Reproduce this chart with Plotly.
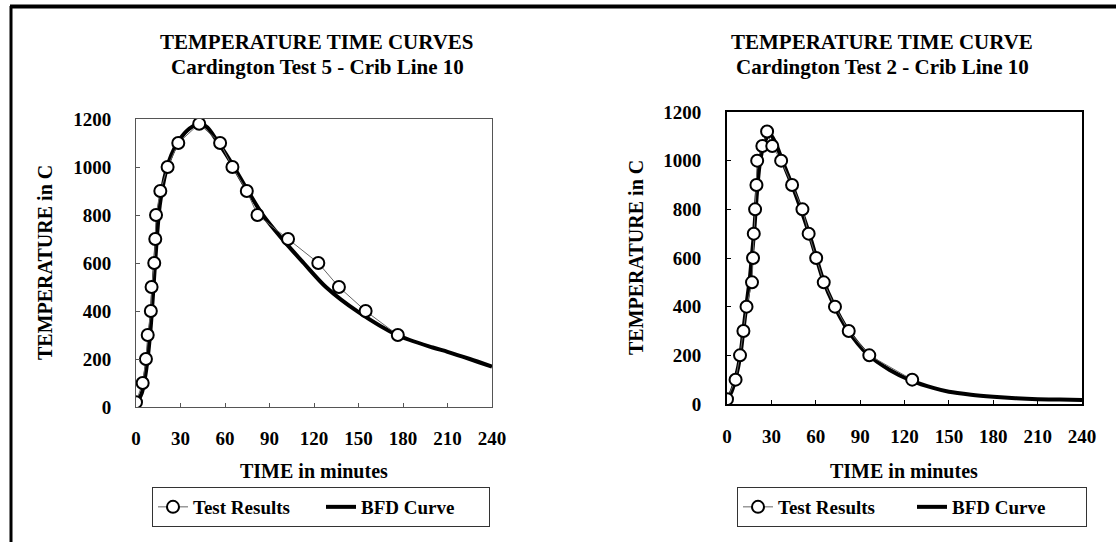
import plotly.graph_objects as go

W, H = 1116, 542

# ---------------- data ----------------
# Left chart: Cardington Test 5
t5_test_time = [0, 4.5, 6.7, 7.9, 10, 10.5, 12.3, 13, 13.5, 16.4, 21.3, 28.5, 42.6,
                56.7, 65, 74.7, 81.9, 102.5, 122.9, 136.8, 154.8, 176.5]
t5_test_temp = [20, 100, 200, 300, 400, 500, 600, 700, 800, 900, 1000, 1100, 1180,
                1100, 1000, 900, 800, 700, 600, 500, 400, 300]
t5_bfd_time = [1, 4, 6, 8, 10, 12, 14, 16, 19, 22, 26, 30, 36, 43, 48, 54, 60, 66,
               75, 85, 100, 113, 128, 150, 176, 200, 210, 225, 240]
t5_bfd_temp = [20, 60, 120, 210, 340, 520, 700, 840, 950, 1020, 1080, 1120, 1160, 1180,
               1165, 1115, 1060, 1000, 905, 805, 690, 600, 500, 395, 300, 248, 230, 200, 168]

# Right chart: Cardington Test 2
t2_test_time = [0, 5.8, 8.8, 11.1, 13.2, 16.9, 17.6, 18.1, 19, 19.9, 20.4, 23.9, 27.1,
                30.6, 36.6, 44, 51, 55.2, 60.3, 65.4, 73, 82.3, 96.2, 125.2]
t2_test_temp = [20, 100, 200, 300, 400, 500, 600, 700, 800, 900, 1000, 1060, 1120,
                1060, 1000, 900, 800, 700, 600, 500, 400, 300, 200, 100]
t2_bfd_time = [0, 3, 6, 9, 11, 13, 15.5, 17, 18.5, 20, 22, 25, 29, 33, 38, 44, 50, 55,
               60, 65, 72, 81, 95, 110, 125, 140, 150, 165, 180, 195, 210, 225, 240]
t2_bfd_temp = [20, 50, 110, 200, 300, 400, 520, 620, 720, 850, 980, 1070, 1110, 1070,
               990, 900, 800, 710, 610, 510, 410, 310, 205, 140, 95, 65, 50, 38, 30, 24,
               20, 18, 16]

x_ticks = [0, 30, 60, 90, 120, 150, 180, 210, 240]
y_ticks = [0, 200, 400, 600, 800, 1000, 1200]

titles = [("TEMPERATURE TIME CURVES", "Cardington Test 5 - Crib Line 10"),
          ("TEMPERATURE TIME CURVE", "Cardington Test 2 - Crib Line 10")]
x_title = "TIME in minutes"
y_title = "TEMPERATURE in C"
leg_names = ["Test Results", "BFD Curve"]

# ---------------- layout geometry (pixels) ----------------
def px_x(p):
    return p / W

def px_y(p):
    return 1 - p / H

SERIF = "Liberation Serif"
BOLD = dict(family=SERIF, color="black", weight="bold")

fig = go.Figure()

panels = [
    dict(xa="x", ya="y", xaxis="xaxis", yaxis="yaxis", legend="legend",
         tt=t5_test_time, tv=t5_test_temp, bt=t5_bfd_time, bv=t5_bfd_temp,
         xl=136, xr=492, yt=119, yb=407, linew=1, linec="#555",
         title_x=317, ytitle_x=45, leg_x=152, entryw=123),
    dict(xa="x2", ya="y2", xaxis="xaxis2", yaxis="yaxis2", legend="legend2",
         tt=t2_test_time, tv=t2_test_temp, bt=t2_bfd_time, bv=t2_bfd_temp,
         xl=727, xr=1082, yt=112, yb=404, linew=2, linec="black",
         title_x=882, ytitle_x=636, leg_x=737, entryw=129),
]

for p in panels:
    fig.add_trace(go.Scatter(
        x=p["bt"], y=p["bv"], mode="lines", name=leg_names[1],
        line=dict(color="black", width=4, shape="spline", smoothing=0.8),
        xaxis=p["xa"], yaxis=p["ya"], legend=p["legend"], legendrank=2,
        hoverinfo="skip"))
    fig.add_trace(go.Scatter(
        x=p["tt"], y=p["tv"], mode="lines+markers", name=leg_names[0],
        line=dict(color="#666", width=1),
        marker=dict(symbol="circle", size=12, color="white",
                    line=dict(color="black", width=2)),
        xaxis=p["xa"], yaxis=p["ya"], legend=p["legend"], legendrank=1))

    axis_common = dict(showgrid=False, zeroline=False, showline=True,
                       linecolor=p["linec"], linewidth=p["linew"], mirror=True,
                       ticks="inside", ticklen=4, tickcolor=p["linec"],
                       tickfont=dict(size=19, **BOLD), automargin=False)
    fig.layout[p["xaxis"]] = dict(
        domain=[px_x(p["xl"]), px_x(p["xr"])], range=[0, 240],
        tickvals=x_ticks, ticklabelstandoff=14, anchor=p["ya"], **axis_common)
    fig.layout[p["yaxis"]] = dict(
        domain=[px_y(p["yb"]), px_y(p["yt"])], range=[0, 1200],
        tickvals=y_ticks, ticklabelstandoff=20, anchor=p["xa"], **axis_common)

    fig.layout[p["legend"]] = dict(
        x=px_x(p["leg_x"]), y=px_y(487), xanchor="left", yanchor="top",
        orientation="h", bordercolor="#333", borderwidth=1, bgcolor="white",
        font=dict(size=19, **BOLD), itemwidth=30, tracegroupgap=0,
        entrywidth=p["entryw"], traceorder="normal")

for i, p in enumerate(panels):
    common = dict(xref="paper", yref="paper", showarrow=False,
                  xanchor="center", yanchor="middle")
    fig.add_annotation(x=px_x(p["title_x"]), y=px_y(42), text=titles[i][0],
                       font=dict(size=21, **BOLD), **common)
    fig.add_annotation(x=px_x(p["title_x"]), y=px_y(67), text=titles[i][1],
                       font=dict(size=21, **BOLD), **common)
    fig.add_annotation(x=px_x((p["xl"] + p["xr"]) / 2), y=px_y(471), text=x_title,
                       font=dict(size=20, **BOLD), **common)
    fig.add_annotation(x=px_x(p["ytitle_x"]), y=px_y((p["yt"] + p["yb"]) / 2),
                       text=y_title, textangle=-90,
                       font=dict(size=20, **BOLD), **common)

# outer frame (left and top edges)
fig.add_shape(type="line", xref="paper", yref="paper",
              x0=px_x(11), x1=px_x(11), y0=0, y1=px_y(6),
              line=dict(color="black", width=3))
fig.add_shape(type="line", xref="paper", yref="paper",
              x0=px_x(10), x1=1, y0=px_y(6.5), y1=px_y(6.5),
              line=dict(color="black", width=4))

fig.update_layout(width=W, height=H,
                  margin=dict(l=0, r=0, t=0, b=0, pad=0, autoexpand=False),
                  paper_bgcolor="white", plot_bgcolor="white",
                  showlegend=True, font=dict(family=SERIF, color="black"))

fig.write_html("out.html",
               config={"displayModeBar": False},
               post_script="document.body.style.margin='0px';"
                           "document.body.style.padding='0px';"
                           "document.body.style.overflow='hidden';")
